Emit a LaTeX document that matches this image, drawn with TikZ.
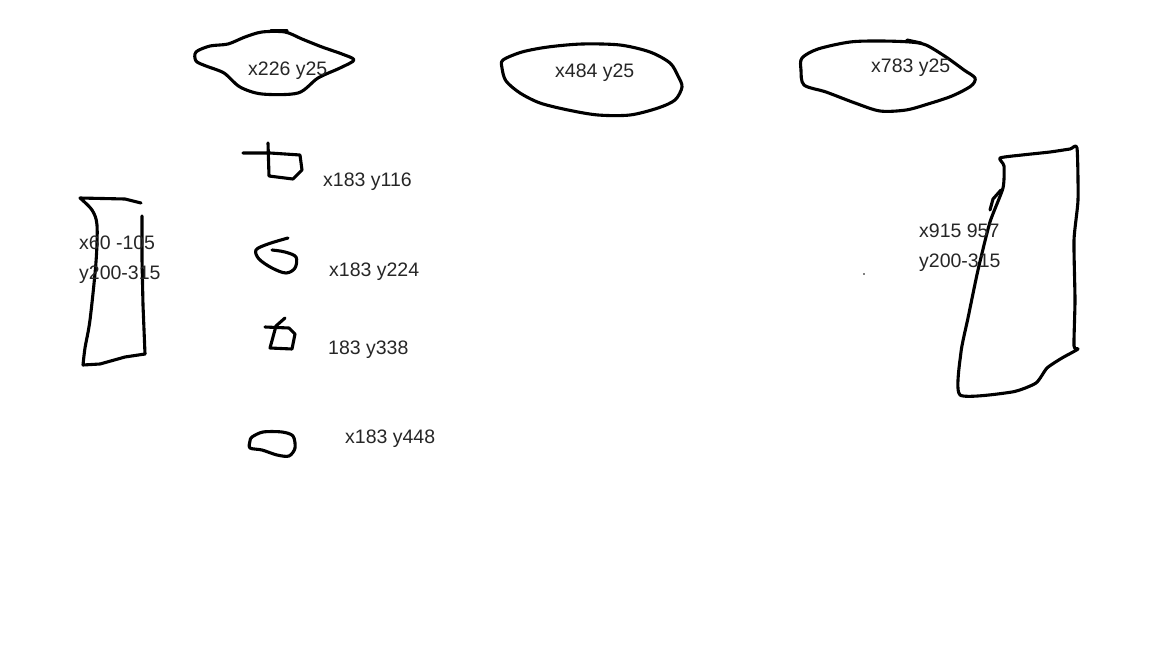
\documentclass[tikz,border=0pt]{standalone}
\usepackage{fontspec}
\setmainfont{Liberation Sans}
\usepackage{tikz}
\usetikzlibrary{positioning,calc}
\definecolor{ink}{HTML}{000000}
\definecolor{paper}{HTML}{FFFFFF}
\tikzset{
  every node/.style={font=\fontsize{19.5}{22}\selectfont},
  % --- strokes
  pen/.style   = {draw=ink, line width=3.1pt, line cap=round, line join=round},
  % --- labels
  coord/.style = {anchor=west, inner sep=0pt, text=ink!85},
}

\begin{document}
\begin{tikzpicture}[x=1pt,y=-1pt]
  \useasboundingbox[fill=paper] (0,0) rectangle (1152,648);

  % --- top blobs
  \draw[pen] plot[smooth cycle, tension=0.5] coordinates {
    (196,52) (210,46) (228,44) (245,37) (262,32) (285,32) (302,39)
    (322,47) (342,54) (354,60) (340,68) (318,78) (298,93) (262,94)
    (240,87) (224,73) (206,66) (196,61)};
  \draw[pen] (271,31) -- (287,31);
  \draw[pen] plot[smooth cycle, tension=0.5] coordinates {
    (503,60) (522,52) (548,47) (582,44) (620,45) (650,52) (670,63)
    (678,76) (682,87) (675,100) (658,108) (630,115) (598,115) (568,110)
    (540,103) (520,93) (506,81) (502,68)};
  \draw[pen] plot[smooth cycle, tension=0.5] coordinates {
    (802,58) (818,49) (850,42) (880,41) (910,42) (926,45) (946,57)
    (964,70) (975,78) (971,86) (952,96) (928,104) (906,110) (880,111)
    (855,103) (826,92) (804,85) (801,70)};
  \draw[pen] (907,40) -- (921,43);

  % --- small marks
  \draw[pen] (243,153) -- (270,153) -- (300,155) -- (302,170) -- (293,179)
    -- (269,176) -- (268,143);
  \draw[pen] plot[smooth, tension=0.55] coordinates {
    (288,238) (268,244) (256,250) (259,259) (272,268) (286,273)
    (295,268) (296,257) (285,252) (272,250)};
  \draw[pen] (285,318) -- (276,326) -- (270,348) -- (292,349) -- (295,334)
    -- (289,328) -- (265,327);
  \draw[pen] plot[smooth cycle, tension=0.5] coordinates {
    (252,437) (263,432) (282,432) (293,436) (295,448) (289,456)
    (277,455) (262,450) (250,448) (250,441)};

  % --- left column
  \draw[pen] (141,203) -- (125,199) -- (80,198)
    plot[smooth, tension=0.5] coordinates {(80,198) (92,210) (97,225) (96,262)
    (90,320) (85,348) (83,365)} -- (100,364) -- (125,357) -- (145,354);
  \draw[pen] (142,216) -- (142,260) -- (143,305) -- (145,354);

  % --- right column
  \draw[pen] plot[smooth cycle, tension=0.35] coordinates {
    (1000,158) (1022,155) (1050,152) (1070,149) (1077,148) (1078,200)
    (1074,240) (1075,300) (1074,346) (1078,349) (1062,358) (1047,368)
    (1036,383) (1012,392) (960,395) (961,352) (968,318) (978,270)
    (990,222) (1003,188) (1004,166)};
  \draw[pen] (990,210) -- (993,199) -- (1001,190);
  \fill[ink] (864,274) circle (0.8);

  % --- labels
  \node[coord] (t1)  at (248,71)  {x226 y25};
  \node[coord] (t2)  at (555,73)  {x484 y25};
  \node[coord] (t3)  at (871,68)  {x783 y25};
  \node[coord] (m1)  at (323,182) {x183 y116};
  \node[coord] (m2)  at (329,272) {x183 y224};
  \node[coord] (m3)  at (328,350) {183 y338};
  \node[coord] (m4)  at (345,439) {x183 y448};
  \node[coord] (lx)  at (79,243)  {x60 -105};
  \node[coord] (ly)  at (79,275)  {y200-315};
  \node[coord] (rx)  at (919,231) {x915 957};
  \node[coord] (ry)  at (919,263) {y200-315};
\end{tikzpicture}
\end{document}
